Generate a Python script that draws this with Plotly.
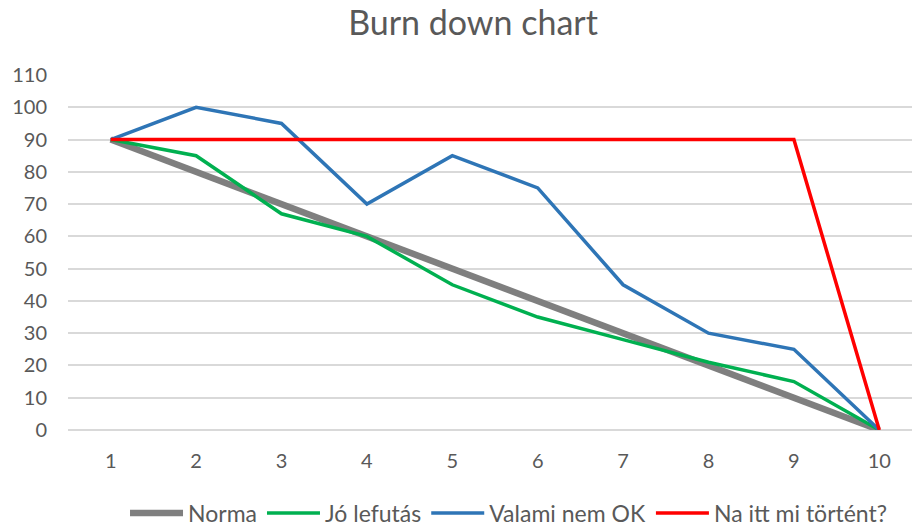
import plotly.graph_objects as go

days = [1, 2, 3, 4, 5, 6, 7, 8, 9, 10]
norma = [90, 80, 70, 60, 50, 40, 30, 20, 10, 0]
jo_lefutas = [90, 85, 67, 60, 45, 35, 28, 21, 15, 0]
valami_nem_ok = [90, 100, 95, 70, 85, 75, 45, 30, 25, 0]
na_itt = [90, 90, 90, 90, 90, 90, 90, 90, 90, 0]

series = [
    ("Norma", norma, "#7f7f7f", 6.5),
    ("Jó lefutás", jo_lefutas, "#00b050", 3.5),
    ("Valami nem OK", valami_nem_ok, "#2e75b6", 3.5),
    ("Na itt mi történt?", na_itt, "#ff0000", 3.5),
]

font_family = "Lato, Open Sans, Liberation Sans, sans-serif"
fig = go.Figure()
for name, vals, color, w in series:
    fig.add_trace(go.Scatter(x=days, y=vals, name=name, mode="lines",
                             line=dict(color=color, width=w)))

W, H = 914, 536
T, B = 67, H - 422
fig.update_layout(
    width=W, height=H,
    paper_bgcolor="white", plot_bgcolor="white",
    margin=dict(l=60, r=0, t=T, b=B),
    title=dict(text="Burn down chart", x=465/W, xanchor="center", y=1 - 15/H, yanchor="middle",
               font=dict(family=font_family, size=34, color="#595959")),
    font=dict(family=font_family, color="#595959"),
    xaxis=dict(range=[0.5, 10.5], tickvals=days, ticktext=[str(d) for d in days],
               showgrid=False, zeroline=False, showline=False,
               tickfont=dict(size=20, color="#595959"), ticklabelstandoff=17),
    yaxis=dict(range=[0, 110], dtick=10, tick0=0, showgrid=True, gridcolor="#d9d9d9", gridwidth=1.5,
               zeroline=True, zerolinecolor="#d9d9d9", zerolinewidth=1.5, showline=False,
               tickfont=dict(size=20, color="#595959"), ticklabelstandoff=20),
    legend=dict(orientation="h", x=472/W, xanchor="center", y=-(505 - (H - B)) / (H - T - B), yanchor="middle",
                font=dict(size=23, color="#595959"), bgcolor="rgba(0,0,0,0)", itemwidth=53),
    showlegend=True,
)

fig.write_html("out.html")
